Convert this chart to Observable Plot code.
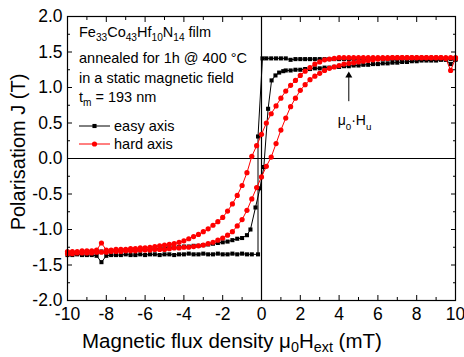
<!DOCTYPE html>
<html><head><meta charset="utf-8">
<script src="https://cdn.jsdelivr.net/npm/d3@7"></script>
<script src="https://cdn.jsdelivr.net/npm/@observablehq/plot@0.6"></script>
<style>body{margin:0;background:#fff}svg{display:block}</style>
</head><body><div id="chart"></div>
<script>
// ---------- data ----------
// easy axis, branch with the abrupt jump near 0
const easyAField = [
  -10,-9.75,-9.5,-9.25,-9,-8.75,-8.5,-8.25,-8,-7.75,
  -7.5,-7.25,-7,-6.75,-6.5,-6.25,-6,-5.75,-5.5,-5.25,
  -5,-4.75,-4.5,-4.25,-4,-3.75,-3.5,-3.25,-3,-2.75,
  -2.5,-2.25,-2,-1.75,-1.5,-1.25,-1,-0.75,-0.5,-0.18,
  -0.18,0.05,0.25,0.5,0.75,1,1.25,1.5,1.75,2,
  2.25,2.5,2.75,3,3.25,3.5,3.75,4,4.25,4.5,
  4.75,5,5.25,5.5,5.75,6,6.25,6.5,6.75,7,
  7.25,7.5,7.75,8,8.25,8.5,8.75,9,9.25,9.5,
  9.75,10];
const easyAJ = [
  -1.36,-1.36,-1.35,-1.36,-1.36,-1.36,-1.37,-1.46,-1.37,-1.36,
  -1.36,-1.36,-1.35,-1.36,-1.36,-1.35,-1.36,-1.35,-1.35,-1.36,
  -1.35,-1.35,-1.36,-1.35,-1.35,-1.34,-1.35,-1.35,-1.34,-1.35,
  -1.35,-1.34,-1.35,-1.35,-1.34,-1.35,-1.34,-1.35,-1.35,-1.35,
  0.31,1.41,1.41,1.41,1.41,1.41,1.41,1.39,1.40,1.40,
  1.40,1.40,1.40,1.40,1.40,1.40,1.40,1.40,1.40,1.40,
  1.40,1.40,1.40,1.40,1.40,1.40,1.40,1.40,1.40,1.40,
  1.40,1.40,1.40,1.40,1.40,1.40,1.40,1.40,1.40,1.40,
  1.40,1.40];
// easy axis, sheared branch
const easyBField = [
  -10,-9.75,-9.5,-9.25,-9,-8.75,-8.5,-8.25,-8,-7.75,
  -7.5,-7.25,-7,-6.75,-6.5,-6.25,-6,-5.75,-5.5,-5.25,
  -5,-4.75,-4.5,-4.25,-4,-3.75,-3.5,-3.25,-3,-2.75,
  -2.5,-2.25,-2,-1.75,-1.5,-1.25,-1,-0.75,-0.57,-0.31,
  -0.08,0.12,0.34,0.52,0.72,0.91,1.12,1.25,1.5,1.75,
  2,2.25,2.5,2.75,3,3.25,3.5,3.75,4,4.25,
  4.5,4.75,5,5.25,5.5,5.75,6,6.25,6.5,6.75,
  7,7.25,7.5,7.75,8,8.25,8.5,8.75,9,9.25,
  9.5,9.75,10];
const easyBJ = [
  -1.33,-1.33,-1.33,-1.32,-1.32,-1.32,-1.32,-1.31,-1.31,-1.31,
  -1.30,-1.30,-1.29,-1.29,-1.29,-1.28,-1.28,-1.28,-1.27,-1.27,
  -1.26,-1.25,-1.25,-1.25,-1.24,-1.24,-1.23,-1.23,-1.22,-1.21,
  -1.20,-1.19,-1.18,-1.17,-1.15,-1.13,-1.12,-1.08,-1.00,-0.69,
  -0.42,-0.12,0.70,1.10,1.17,1.21,1.23,1.24,1.24,1.25,
  1.25,1.26,1.26,1.27,1.27,1.28,1.28,1.29,1.29,1.30,
  1.30,1.31,1.31,1.32,1.32,1.33,1.33,1.34,1.34,1.35,
  1.35,1.36,1.36,1.37,1.37,1.38,1.38,1.38,1.38,1.39,
  1.39,1.33,1.39];
// hard axis field grid
const hardField = [
  -10,-9.75,-9.5,-9.25,-9,-8.75,-8.5,-8.25,-8,-7.75,
  -7.5,-7.25,-7,-6.75,-6.5,-6.25,-6,-5.75,-5.5,-5.25,
  -5,-4.75,-4.5,-4.25,-4,-3.75,-3.5,-3.25,-3,-2.75,
  -2.5,-2.25,-2,-1.75,-1.5,-1.25,-1,-0.75,-0.5,-0.25,
  0,0.25,0.5,0.75,1,1.25,1.5,1.75,2,2.25,
  2.5,2.75,3,3.25,3.5,3.75,4,4.25,4.5,4.75,
  5,5.25,5.5,5.75,6,6.25,6.5,6.75,7,7.25,
  7.5,7.75,8,8.25,8.5,8.75,9,9.25,9.5,9.75,
  10];
// hard axis, descending (upper) branch
const hardDownJ = [
  -1.31,-1.31,-1.31,-1.30,-1.30,-1.30,-1.29,-1.19,-1.29,-1.29,
  -1.28,-1.28,-1.28,-1.27,-1.27,-1.26,-1.26,-1.25,-1.24,-1.23,
  -1.22,-1.21,-1.20,-1.18,-1.16,-1.13,-1.10,-1.07,-1.03,-0.99,
  -0.94,-0.89,-0.83,-0.74,-0.64,-0.52,-0.38,-0.20,0.03,0.18,
  0.34,0.50,0.63,0.74,0.85,0.95,1.03,1.10,1.17,1.23,
  1.28,1.33,1.36,1.39,1.40,1.41,1.42,1.42,1.42,1.42,
  1.42,1.42,1.42,1.42,1.42,1.42,1.42,1.42,1.42,1.42,
  1.42,1.42,1.42,1.42,1.42,1.42,1.42,1.42,1.42,1.42,
  1.42];
// hard axis, ascending (lower) branch
const hardUpJ = [
  -1.34,-1.34,-1.33,-1.33,-1.33,-1.33,-1.32,-1.32,-1.32,-1.31,
  -1.31,-1.31,-1.30,-1.30,-1.30,-1.29,-1.29,-1.29,-1.28,-1.28,
  -1.28,-1.27,-1.26,-1.26,-1.25,-1.25,-1.24,-1.23,-1.22,-1.20,
  -1.18,-1.15,-1.12,-1.08,-1.03,-0.95,-0.86,-0.73,-0.57,-0.41,
  -0.26,-0.11,0.02,0.21,0.40,0.57,0.73,0.85,0.96,1.04,
  1.11,1.16,1.20,1.24,1.27,1.29,1.31,1.33,1.34,1.35,
  1.36,1.37,1.38,1.39,1.40,1.41,1.41,1.42,1.42,1.42,
  1.42,1.42,1.42,1.42,1.42,1.42,1.42,1.42,1.41,1.24,
  1.41];

// axes
const xTicks = [-10,-8,-6,-4,-2,0,2,4,6,8,10];
const xTickLabels = ["-10","-8","-6","-4","-2","0","2","4","6","8","10"];
const xMinor = [-9,-7,-5,-3,-1,1,3,5,7,9];
const yTicks = [-2,-1.5,-1,-0.5,0,0.5,1,1.5,2];
const yTickLabels = ["-2.0","-1.5","-1.0","-0.5","0.0","0.5","1.0","1.5","2.0"];
const yMinor = [-1.75,-1.25,-0.75,-0.25,0.25,0.75,1.25,1.75];

// annotation
const annotX = 4.5, annotTail = 0.80, annotHead = 1.17;
const annotTextX = 3.95, annotTextY = 0.46;

const rows = (xs, ys) => xs.map((x, i) => ({x, y: ys[i]}));
const easyA = rows(easyAField, easyAJ);
const easyB = rows(easyBField, easyBJ);
const hardDown = rows(hardField, hardDownJ);
const hardUp = rows(hardField, hardUpJ);

const font = "'Liberation Sans', Arial, sans-serif";
const lab = (arr, vals) => d => arr[vals.indexOf(d)];

const chart = Plot.plot({
  width: 464, height: 357,
  marginLeft: 67, marginRight: 9, marginTop: 16, marginBottom: 57,
  x: {domain: [-10, 10]},
  y: {domain: [-2, 2]},
  style: {fontFamily: font, color: "black", background: "white", overflow: "visible"},
  marks: [
    Plot.ruleY([0], {stroke: "black", strokeWidth: 1.2}),
    Plot.ruleX([0], {stroke: "black", strokeWidth: 1.2}),
    Plot.line(easyA, {x: "x", y: "y", stroke: "black", strokeWidth: 1}),
    Plot.dot(easyA, {x: "x", y: "y", symbol: "square", r: 2.3, fill: "black"}),
    Plot.line(easyB, {x: "x", y: "y", stroke: "black", strokeWidth: 1}),
    Plot.dot(easyB, {x: "x", y: "y", symbol: "square", r: 2.3, fill: "black"}),
    Plot.line(hardDown, {x: "x", y: "y", stroke: "#ff0000", strokeWidth: 1}),
    Plot.dot(hardDown, {x: "x", y: "y", r: 2.6, fill: "#ff0000"}),
    Plot.line(hardUp, {x: "x", y: "y", stroke: "#ff0000", strokeWidth: 1}),
    Plot.dot(hardUp, {x: "x", y: "y", r: 2.6, fill: "#ff0000"}),
    Plot.ruleX([annotX], {y1: annotTail, y2: annotHead, stroke: "black", strokeWidth: 1}),
    Plot.dot([{x: annotX, y: annotHead}], {x: "x", y: "y", symbol: "triangle", r: 2.6, fill: "black"}),
    Plot.frame({stroke: "black", strokeWidth: 1.2}),
    // inward ticks on all four sides
    Plot.axisX(xTicks, {anchor: "bottom", tickSize: -5, fill: "none", label: null}),
    Plot.axisX(xMinor, {anchor: "bottom", tickSize: -3, fill: "none", label: null}),
    Plot.axisX(xTicks, {anchor: "top", tickSize: -5, fill: "none", label: null}),
    Plot.axisX(xMinor, {anchor: "top", tickSize: -3, fill: "none", label: null}),
    Plot.axisY(yTicks, {anchor: "left", tickSize: -5, fill: "none", label: null}),
    Plot.axisY(yMinor, {anchor: "left", tickSize: -3, fill: "none", label: null}),
    Plot.axisY(yTicks, {anchor: "right", tickSize: -5, fill: "none", label: null}),
    Plot.axisY(yMinor, {anchor: "right", tickSize: -3, fill: "none", label: null}),
    // tick labels
    Plot.axisX(xTicks, {anchor: "bottom", tickSize: 0, tickPadding: 7, label: null, fontSize: 17.5,
      tickFormat: lab(xTickLabels, xTicks)}),
    Plot.axisY(yTicks, {anchor: "left", tickSize: 0, tickPadding: 5, label: null, fontSize: 17.5,
      tickFormat: lab(yTickLabels, yTicks)})
  ]
});
document.getElementById("chart").append(chart);

// ---------- rich text (subscripts) ----------
const svg = d3.select(chart);
function rich(x, y, parts, size, shift = 0.3) {
  const t = svg.append("text").attr("x", x).attr("y", y).attr("text-anchor", "start")
    .attr("font-family", font).attr("font-size", size).attr("fill", "black");
  let shifted = false;
  for (const [s, sub] of parts) {
    const ts = t.append("tspan").text(s);
    if (sub && !shifted) { ts.attr("dy", size * shift).attr("font-size", size * 0.7); shifted = true; }
    else if (sub) { ts.attr("font-size", size * 0.7); }
    else if (!sub && shifted) { ts.attr("dy", -size * shift); shifted = false; }
  }
  return t;
}
const legendX = 79;
rich(legendX, 36.5, [["Fe"],["33",1],["Co"],["43",1],["Hf"],["10",1],["N"],["14",1],[" film"]], 14.5);
rich(legendX, 63, [["annealed for 1h @ 400 °C"]], 14.5);
rich(legendX, 83, [["in a static magnetic field"]], 14.5);
rich(legendX, 102, [["t"],["m",1],[" = 193 nm"]], 14.5);

const legendItems = [
  {label: "easy axis", color: "black", symbol: d3.symbolSquare, size: 17, y: 126},
  {label: "hard axis", color: "#ff0000", symbol: d3.symbolCircle, size: 21, y: 144}
];
for (const it of legendItems) {
  svg.append("line").attr("x1", legendX).attr("x2", legendX + 31).attr("y1", it.y).attr("y2", it.y)
    .attr("stroke", it.color).attr("stroke-width", 1);
  svg.append("path").attr("d", d3.symbol(it.symbol, it.size)())
    .attr("transform", `translate(${legendX + 15.5},${it.y})`).attr("fill", it.color);
  rich(legendX + 35, it.y + 5, [[it.label]], 14.5);
}

// annotation text
const sx = chart.scale("x"), sy = chart.scale("y");
rich(sx.apply(annotTextX), sy.apply(annotTextY), [["μ"],["0",1],["·H"],["u",1]], 14);

// axis titles
rich(82, 348, [["Magnetic flux density μ"],["0",1],["H"],["ext",1],[" (mT)"]], 20.5, 0.2);
svg.append("text").attr("transform", "translate(25,152) rotate(-90)")
  .attr("text-anchor", "middle").attr("font-family", font).attr("font-size", 20).attr("fill", "black")
  .text("Polarisatiom J (T)");
</script>
</body></html>
